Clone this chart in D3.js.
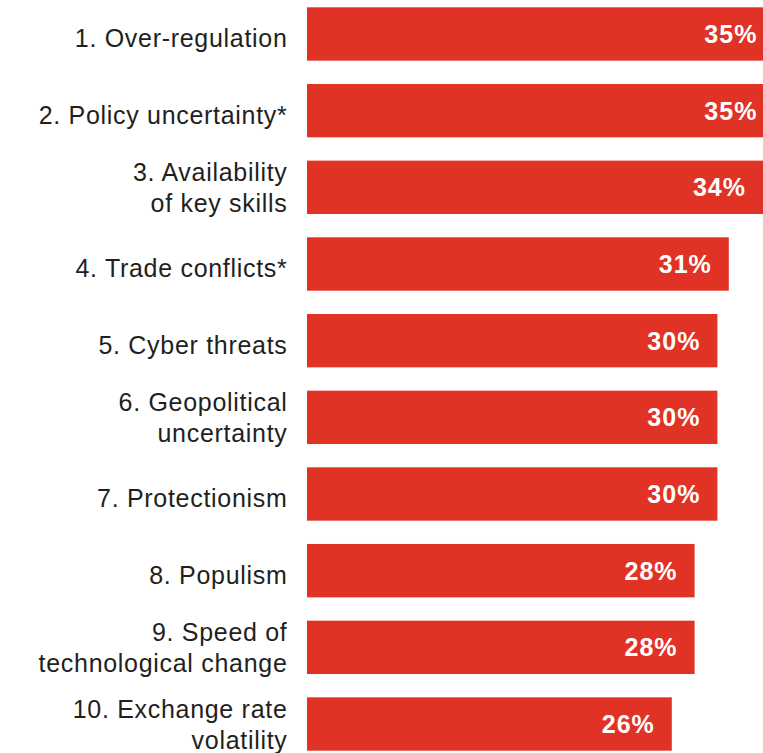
<!DOCTYPE html>
<html>
<head>
<meta charset="utf-8">
<script src="https://cdn.jsdelivr.net/npm/d3@7"></script>
<style>
  html, body { margin: 0; padding: 0; background: #fff; overflow: hidden; }
  svg { display: block; }
</style>
</head>
<body>
<svg id="chart" width="763" height="753"></svg>
<script>
// Top concerns, share of respondents (%)
const labels = [
  ["1. Over-regulation"],
  ["2. Policy uncertainty*"],
  ["3. Availability", "of key skills"],
  ["4. Trade conflicts*"],
  ["5. Cyber threats"],
  ["6. Geopolitical", "uncertainty"],
  ["7. Protectionism"],
  ["8. Populism"],
  ["9. Speed of", "technological change"],
  ["10. Exchange rate", "volatility"]
];
const values = [35, 35, 34, 31, 30, 30, 30, 28, 28, 26];

const barColor = "#e03326";
const textColor = "#231f20";
const font = "'Liberation Sans', Arial, Helvetica, sans-serif";

const svg = d3.select("#chart");

const ids = labels.map((d, i) => i);

const y = d3.scaleBand()
  .domain(ids)
  .range([7.3, 750.7])
  .paddingInner(0.304)
  .paddingOuter(0);

// Truncated value axis: bars grow from the left edge of the plot area
const xMin = -6;
const x = d3.scaleLinear()
  .domain([xMin, 34])
  .range([307, 763]);

const rows = svg.selectAll("g.row")
  .data(ids)
  .join("g")
  .attr("class", "row");

rows.append("rect")
  .attr("x", x(xMin))
  .attr("y", i => y(i))
  .attr("width", i => x(values[i]) - x(xMin))
  .attr("height", y.bandwidth())
  .attr("fill", barColor);

rows.append("text")
  .attr("x", i => x(values[i]) - 17)
  .attr("y", i => y(i) + y.bandwidth() / 2 + 9)
  .attr("text-anchor", "end")
  .attr("fill", "#fff")
  .style("font-family", font)
  .style("font-weight", "bold")
  .style("font-size", "25px")
  .style("letter-spacing", "1px")
  .text(i => values[i] + "%");

const cat = rows.append("text")
  .attr("text-anchor", "end")
  .attr("fill", textColor)
  .style("font-family", font)
  .style("font-size", "25px")
  .style("letter-spacing", "0.7px");

cat.each(function(i) {
  const lines = labels[i];
  const c = y(i) + y.bandwidth() / 2;
  const t = d3.select(this);
  if (lines.length === 1) {
    t.append("tspan").attr("x", 287.5).attr("y", c + 13).text(lines[0]);
  } else {
    t.append("tspan").attr("x", 287.5).attr("y", c - 6).text(lines[0]);
    t.append("tspan").attr("x", 287.5).attr("y", c + 25).text(lines[1]);
  }
});
</script>
</body>
</html>
